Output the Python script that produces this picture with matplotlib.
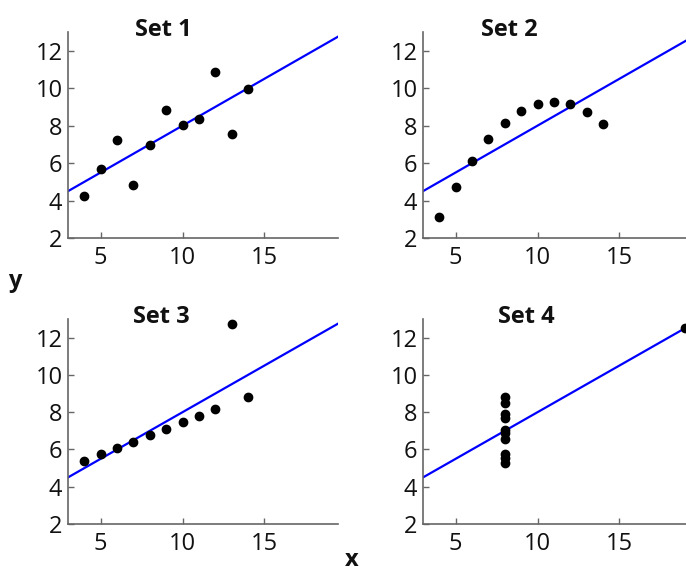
import matplotlib
matplotlib.use('Agg')
import matplotlib.pyplot as plt

# Anscombe's quartet
x123 = [10, 8, 13, 9, 11, 14, 6, 4, 12, 7, 5]
y1 = [8.04, 6.95, 7.58, 8.81, 8.33, 9.96, 7.24, 4.26, 10.84, 4.82, 5.68]
y2 = [9.14, 8.14, 8.74, 8.77, 9.26, 8.10, 6.13, 3.10, 9.13, 7.26, 4.74]
y3 = [7.46, 6.77, 12.74, 7.11, 7.81, 8.84, 6.08, 5.39, 8.15, 6.42, 5.73]
x4 = [8, 8, 8, 8, 8, 8, 8, 19, 8, 8, 8]
y4 = [6.58, 5.76, 7.71, 8.84, 8.47, 7.04, 5.25, 12.50, 5.56, 7.91, 6.89]
titles = ['Set 1', 'Set 2', 'Set 3', 'Set 4']

# regression line y = a + b*x (same for all four sets)
fit_a = 3.0
fit_b = 0.5
fit_x = [3, 19.5]

plt.rcParams['font.family'] = ['Open Sans', 'DejaVu Sans']

W, H = 686, 567
fig = plt.figure(figsize=(W/100, H/100), dpi=100)

# axes boxes in pixels: left, top, right, bottom
boxes = [(68, 32, 338, 238), (423, 32, 693, 238),
         (68, 319, 338, 524), (423, 319, 693, 524)]
sets = [(x123, y1), (x123, y2), (x123, y3), (x4, y4)]
title_x = [8.8, 8.3, 8.7, 9.3]

for i in range(4):
    l, t, r, b = boxes[i]
    ax = fig.add_axes([l/W, (H-b)/H, (r-l)/W, (b-t)/H])
    ax.set_xlim(3, 19.5)
    ax.set_ylim(2, 13)
    fy = [fit_a + fit_b*v for v in fit_x]
    ax.plot(fit_x, fy, color='#0000ff', lw=1.6, zorder=2)
    xs, ys = sets[i]
    ax.plot(xs, ys, 'o', color='black', ms=6, zorder=3, clip_on=False)
    ax.set_xticks([5, 10, 15])
    ax.set_yticks([2, 4, 6, 8, 10, 12])
    for s in ['top', 'right']:
        ax.spines[s].set_visible(False)
    for s in ['left', 'bottom']:
        ax.spines[s].set_color('#666666')
        ax.spines[s].set_linewidth(1.2)
    ax.tick_params(direction='in', length=4, width=1, color='#666666',
                   labelsize=17, pad=6, labelcolor='#111111')
    ax.tick_params(axis='y', pad=4)
    ax.patch.set_alpha(0)
    ax.text(title_x[i], 12.8, titles[i], ha='center', va='baseline',
            fontsize=17, fontweight='bold', color='#111111')

fig.text(15/W, 1 - 281/H, 'y', ha='center', va='center', fontsize=17,
         fontweight='bold', color='#111111')
fig.text(352/W, 1 - 560/H, 'x', ha='center', va='center', fontsize=17,
         fontweight='bold', color='#111111')

fig.savefig('out.png', dpi=100)
